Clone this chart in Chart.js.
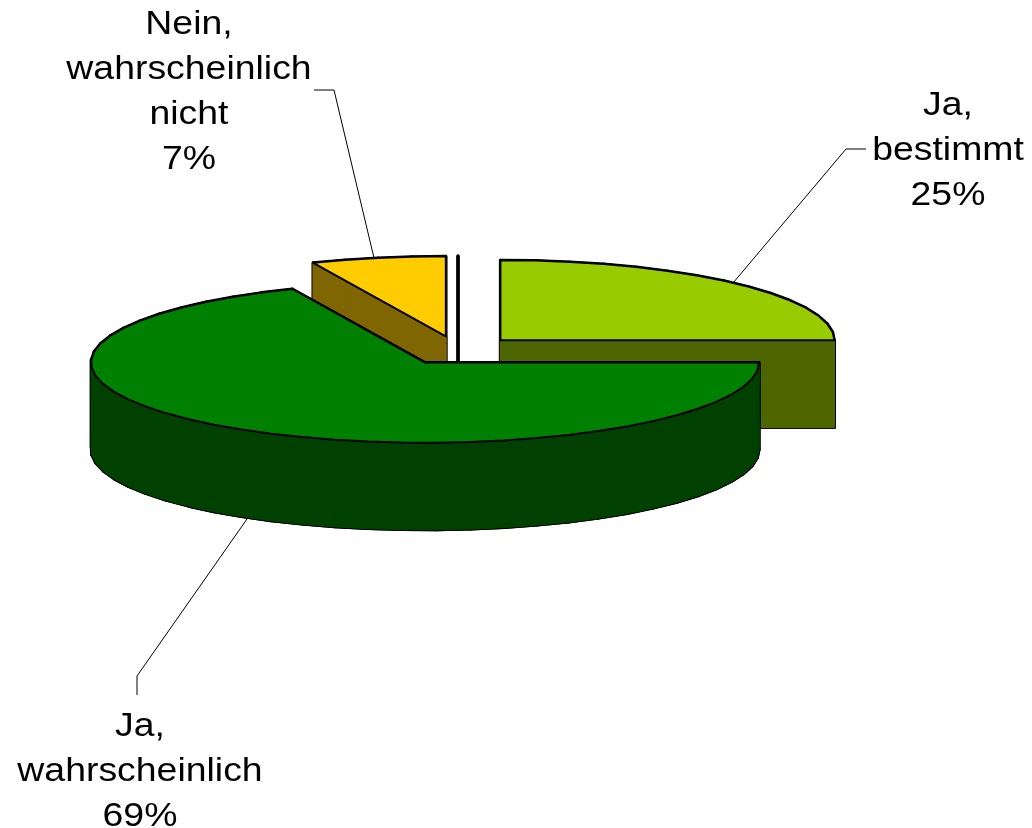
<!DOCTYPE html>
<html>
<head>
<meta charset="utf-8">
<style>html,body{margin:0;padding:0;background:#fff}canvas{display:block}</style>
<script src="https://cdn.jsdelivr.net/npm/chart.js@4/dist/chart.umd.min.js"></script>
</head>
<body>
<canvas id="c" width="1032" height="828"></canvas>
<script>
const categories = ["Ja, bestimmt", "Ja, wahrscheinlich", "Nein, wahrscheinlich nicht", "Nein, bestimmt nicht"];
const values = [25, 68.5, 6.5, 0];
const topColors = ["#99CC00", "#008000", "#FFCC00", "#FFFFFF"];
const wallColors = ["#4D6600", "#004000", "#806600", "#808080"];
const labelLines = [["Ja,", "bestimmt"], ["Ja,", "wahrscheinlich"], ["Nein,", "wahrscheinlich", "nicht"], []];

// view / layout settings
const TILT = 0.24, DEPTH = 87, SCREEN_CY = 350.5, EXPLODE = 60, STEP = Math.PI / 30;
const LINE_H = 45, TEXT_STRETCH = 1.1, FONT = '34px "Liberation Sans", Arial, sans-serif';
const labelPlace = [
  { x: 948, y: 106, leader: [[866,149],[846,149],[733,283]] },
  { x: 140, y: 727, leader: [[137,695],[137,676],[247,519]] },
  { x: 189, y: 25,  leader: [[314,90],[334,90],[374,258]] },
  null
];
const drawOrder = [3, 0, 2, 1];

const pie3d = {
  id: 'pie3d',
  beforeDatasetsDraw(chart) {
    const ctx = chart.ctx, arcs = chart.getDatasetMeta(0).data;
    for (const i of drawOrder) {
      const a = arcs[i], mid = (a.startAngle + a.endAngle) / 2, off = a.options.offset;
      const ox = a.x + Math.cos(mid) * off;
      const oy = SCREEN_CY + Math.sin(mid) * off * TILT;
      const P = (th) => [ox + Math.cos(th) * a.outerRadius, oy + Math.sin(th) * a.outerRadius * TILT];
      const pts = [[ox, oy]];
      const n = Math.max(1, Math.ceil((a.endAngle - a.startAngle) / STEP));
      for (let k = 0; k <= n; k++) pts.push(P(a.startAngle + (a.endAngle - a.startAngle) * k / n));
      const poly = (list, dy) => {
        ctx.beginPath();
        list.forEach((p, j) => j ? ctx.lineTo(p[0], p[1] + dy) : ctx.moveTo(p[0], p[1] + dy));
        ctx.closePath();
      };
      const sweep = (paint) => {
        poly(pts, DEPTH); paint();
        for (let j = 0; j < pts.length; j++) {
          const p = pts[j], q = pts[(j + 1) % pts.length];
          ctx.beginPath();
          ctx.moveTo(p[0], p[1]); ctx.lineTo(q[0], q[1]);
          ctx.lineTo(q[0], q[1] + DEPTH); ctx.lineTo(p[0], p[1] + DEPTH);
          ctx.closePath(); paint();
        }
      };
      ctx.save();
      ctx.lineJoin = 'round';
      ctx.strokeStyle = '#000'; ctx.lineWidth = 3;
      sweep(() => ctx.stroke());
      ctx.fillStyle = wallColors[i]; ctx.strokeStyle = wallColors[i]; ctx.lineWidth = 1;
      if (a.endAngle - a.startAngle > 0) sweep(() => { ctx.fill(); ctx.stroke(); });
      poly(pts, 0);
      ctx.fillStyle = topColors[i]; ctx.fill();
      ctx.strokeStyle = '#000'; ctx.lineWidth = 2; ctx.stroke();
      ctx.restore();
    }
    return false;
  },
  afterDraw(chart) {
    const ctx = chart.ctx;
    ctx.save();
    ctx.fillStyle = '#000'; ctx.strokeStyle = '#000'; ctx.lineWidth = 1;
    ctx.font = FONT; ctx.textAlign = 'center'; ctx.textBaseline = 'middle';
    labelPlace.forEach((pl, i) => {
      if (!pl) return;
      const lines = labelLines[i].concat([Math.round(values[i]) + '%']);
      lines.forEach((t, j) => {
        ctx.save();
        ctx.translate(pl.x, pl.y + j * LINE_H);
        ctx.scale(TEXT_STRETCH, 1);
        ctx.fillText(t, 0, 0);
        ctx.restore();
      });
      ctx.beginPath();
      pl.leader.forEach((p, j) => j ? ctx.lineTo(p[0], p[1]) : ctx.moveTo(p[0], p[1]));
      ctx.stroke();
    });
    ctx.restore();
  }
};

new Chart(document.getElementById('c'), {
  type: 'pie',
  data: { labels: categories, datasets: [{ data: values, backgroundColor: topColors,
    borderColor: '#000', borderWidth: 2, offset: EXPLODE, hoverOffset: 0 }] },
  options: {
    responsive: false, animation: false,
    layout: { padding: { left: 93, right: 209, top: 49, bottom: 49 } },
    plugins: { legend: { display: false }, tooltip: { enabled: false } }
  },
  plugins: [pie3d]
});
</script>
</body>
</html>
